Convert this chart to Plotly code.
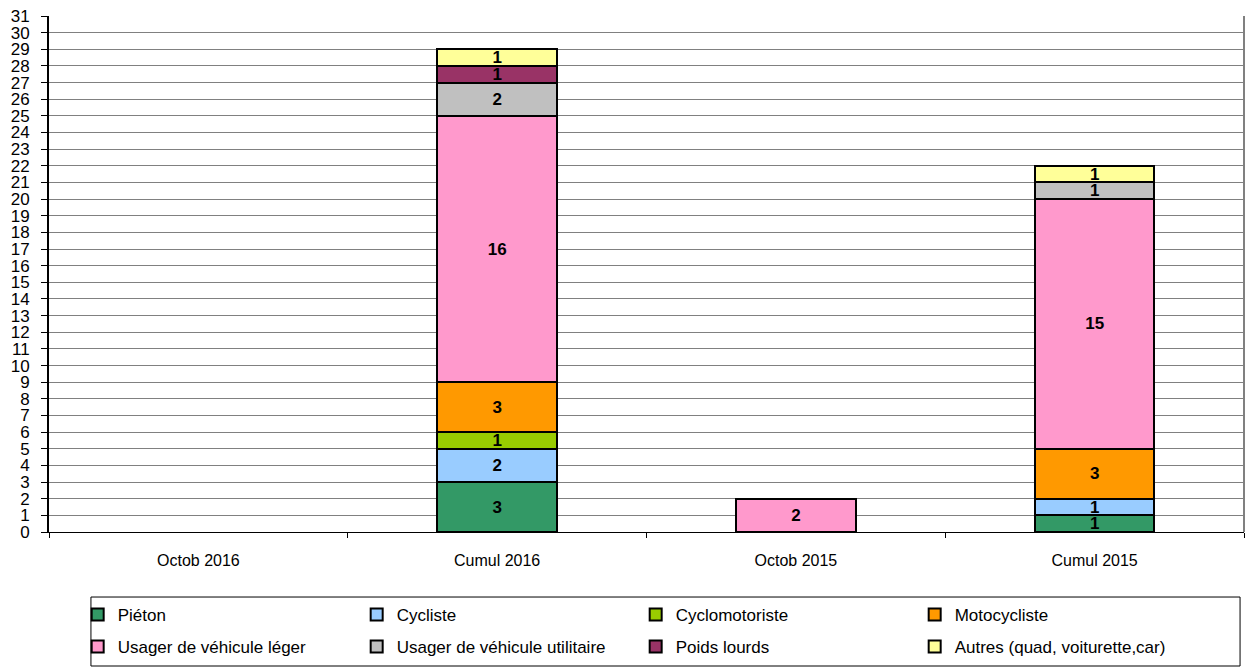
import plotly.graph_objects as go

categories = ["Octob 2016", "Cumul 2016", "Octob 2015", "Cumul 2015"]
series_names = ["Piéton", "Cycliste", "Cyclomotoriste", "Motocycliste",
                "Usager de véhicule léger", "Usager de véhicule utilitaire",
                "Poids lourds", "Autres (quad, voiturette,car)"]
pieton = [0, 3, 0, 1]
cycliste = [0, 2, 0, 1]
cyclomotoriste = [0, 1, 0, 0]
motocycliste = [0, 3, 0, 3]
vl = [0, 16, 2, 15]
vu = [0, 2, 0, 1]
poids_lourds = [0, 1, 0, 0]
autres = [0, 1, 0, 1]
colors = ["#339966", "#99CCFF", "#99CC00", "#FF9900",
          "#FF99CC", "#C0C0C0", "#993366", "#FFFF99"]
ytick_vals = list(range(0, 32))

all_series = [pieton, cycliste, cyclomotoriste, motocycliste, vl, vu, poids_lourds, autres]

fig = go.Figure()
for i, (name, vals, col) in enumerate(zip(series_names, all_series, colors)):
    yv = [v if v else None for v in vals]
    fig.add_trace(go.Bar(
        x=categories, y=yv, name=name,
        legend="legend" if i < 4 else "legend2",
        marker=dict(color=col, line=dict(color="black", width=2)),
        text=[str(v) if v else "" for v in vals],
        textposition="inside", insidetextanchor="middle",
        constraintext="none",
        textfont=dict(family="Liberation Sans, Arial", size=17, color="black", weight="bold"),
        textangle=0,
        cliponaxis=False,
    ))

leg_common = dict(
    orientation="h", x=0.024, xanchor="left", yanchor="top",
    entrywidth=234, entrywidthmode="pixels",
    borderwidth=0, bgcolor="rgba(0,0,0,0)",
    font=dict(family="Liberation Sans, Arial", size=17, color="black"),
    traceorder="normal", itemwidth=30,
)

fig.update_layout(
    barmode="stack",
    bargap=0.6,
    width=1246, height=669,
    margin=dict(l=49, r=2, t=16, b=137, autoexpand=False),
    paper_bgcolor="white", plot_bgcolor="white",
    font=dict(family="Liberation Sans, Arial", size=16, color="black"),
    showlegend=True,
    legend=dict(y=-0.126, **leg_common),
    legend2=dict(y=-0.188, **leg_common),
    shapes=[
        dict(type="line", xref="paper", yref="paper", x0=1, x1=1, y0=0, y1=1,
             line=dict(color="#808080", width=2)),
        dict(type="rect", xref="paper", yref="paper", x0=0.0351, x1=0.9967,
             y0=-0.2597, y1=-0.126, line=dict(color="black", width=1),
             fillcolor="rgba(0,0,0,0)", layer="below"),
    ],
)
fig.update_xaxes(
    type="category", showgrid=False, showline=True, linecolor="black", linewidth=1,
    ticks="outside", tickson="boundaries", ticklen=5, tickcolor="black",
    tickfont=dict(size=16), ticklabelstandoff=14,
)
fig.update_yaxes(
    range=[0, 31], tickmode="array", tickvals=ytick_vals,
    showgrid=True, gridcolor="#808080", gridwidth=1,
    showline=True, linecolor="black", linewidth=2,
    ticks="outside", ticklen=6, tickcolor="black",
    tickfont=dict(size=17), zeroline=False, ticklabelstandoff=8,
)

fig.write_html("out.html", config={"displayModeBar": False},
               post_script="document.body.style.margin='0px';")
